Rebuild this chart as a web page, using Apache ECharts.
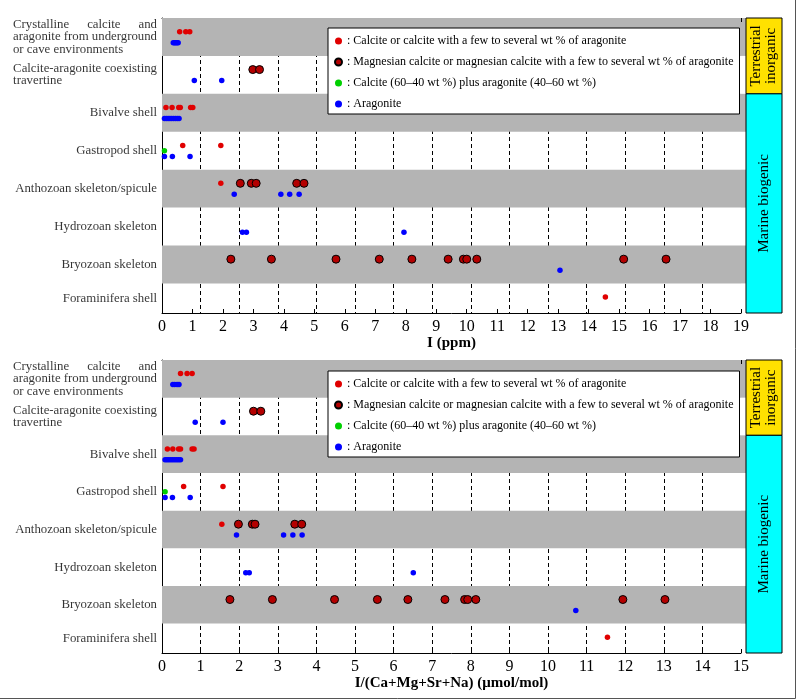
<!DOCTYPE html>
<html><head><meta charset="utf-8">
<script src="https://cdn.jsdelivr.net/npm/echarts@6/dist/echarts.min.js"></script>
<style>html,body{margin:0;padding:0;background:#fff}#c{width:800px;height:699px}</style>
</head><body><div id="c"></div>
<script>
// ---------- data ----------
const categories = ['Crystalline calcite and aragonite from underground or cave environments','Calcite-aragonite coexisting travertine','Bivalve shell','Gastropod shell','Anthozoan skeleton/spicule','Hydrozoan skeleton','Bryozoan skeleton','Foraminifera shell'];
const categoryLabels = [
  '{l|Crystalline}{c|calcite}{r|and}\n{l|aragonite from underground}\n{l|or cave environments}',
  '{l|Calcite-aragonite coexisting}\n{l|travertine}',
  '{l|Bivalve shell}','{l|Gastropod shell}','{l|Anthozoan skeleton/spicule}',
  '{l|Hydrozoan skeleton}','{l|Bryozoan skeleton}','{l|Foraminifera shell}'];
const seriesNames = ['Calcite or calcite with a few to several wt % of aragonite','Magnesian calcite or magnesian calcite with a few to several wt % of aragonite','Calcite (60\u201340 wt %) plus aragonite (40\u201360 wt %)','Aragonite'];
const groupNames = ['Terrestrial\ninorganic','Marine biogenic'];
const xTicksPpm = [0,19];
const xTicksRatio = [0,15];

// [category index, value]
const ppmCalcite = [[0,0.58],[0,0.78],[0,0.91],[2,0.13],[2,0.33],[2,0.55],[2,0.6],[2,0.94],[2,1.01],[3,0.68],[3,1.93],[4,1.93],[7,14.55]];
const ppmMgCalcite = [[1,2.98],[1,3.2],[4,2.57],[4,2.93],[4,3.09],[4,4.42],[4,4.66],[6,2.26],[6,3.59],[6,5.71],[6,7.13],[6,8.2],[6,9.39],[6,9.89],[6,10.0],[6,10.33],[6,15.15],[6,16.54]];
const ppmMixed = [[3,0.08]];
const ppmAragonite = [[0,0.37],[0,0.41],[0,0.45],[0,0.49],[0,0.53],[1,1.06],[1,1.96],[2,0.08],[2,0.14],[2,0.2],[2,0.26],[2,0.32],[2,0.38],[2,0.44],[2,0.5],[2,0.56],[3,0.08],[3,0.34],[3,0.92],[4,2.37],[4,3.9],[4,4.19],[4,4.5],[5,2.64],[5,2.77],[5,7.94],[6,13.06]];

const ratioCalcite = [[0,0.48],[0,0.65],[0,0.78],[2,0.14],[2,0.28],[2,0.43],[2,0.48],[2,0.78],[2,0.83],[3,0.56],[3,1.58],[4,1.55],[7,11.54]];
const ratioMgCalcite = [[1,2.37],[1,2.56],[4,1.98],[4,2.34],[4,2.41],[4,3.44],[4,3.62],[6,1.76],[6,2.86],[6,4.47],[6,5.58],[6,6.37],[6,7.33],[6,7.84],[6,7.92],[6,8.13],[6,11.94],[6,13.03]];
const ratioMixed = [[3,0.08]];
const ratioAragonite = [[0,0.28],[0,0.33],[0,0.39],[0,0.44],[1,0.86],[1,1.58],[2,0.08],[2,0.13],[2,0.18],[2,0.23],[2,0.28],[2,0.33],[2,0.38],[2,0.43],[2,0.48],[3,0.08],[3,0.27],[3,0.73],[4,1.93],[4,3.15],[4,3.39],[4,3.63],[5,2.17],[5,2.26],[5,6.51],[6,10.72]];

// ---------- layout / style ----------
const FONT = '"Liberation Serif", "Times New Roman", serif';
const Y_MAX = 7.78;            // last row is partly cut by the axis
const BAND_ROWS = [0, 2, 4, 6];
const OFFSETS = [-0.14, -0.14, 0, 0.15];
const STYLES = [
  {symbolSize:5.5, itemStyle:{color:'#e00000', opacity:1}},
  {symbolSize:8, itemStyle:{color:'#b40000', borderColor:'#000', borderWidth:1, opacity:1}},
  {symbolSize:5.5, itemStyle:{color:'#00d000', opacity:1}},
  {symbolSize:5.5, itemStyle:{color:'#0000ff', opacity:1}}
];
const panels = [
  {top:18, height:295, ticks:xTicksPpm, name:'I (ppm)', data:[ppmCalcite,ppmMgCalcite,ppmMixed,ppmAragonite], legendTop:28},
  {top:360, height:293, ticks:xTicksRatio, name:'I/(Ca+Mg+Sr+Na) (\u03bcmol/mol)', data:[ratioCalcite,ratioMgCalcite,ratioMixed,ratioAragonite], legendTop:371}
];

const chart = echarts.init(document.getElementById('c'));
const grid = [], xAxis = [], yAxis = [], series = [], legend = [];
const richBase = {fontFamily:FONT, fontSize:12.8, lineHeight:12.5, color:'#000'};

panels.forEach((p, gi) => {
  grid.push({left:162, right:59, top:p.top, height:p.height});
  const base = xAxis.length;
  const xMax = p.ticks[1];
  const dashedStyle = {show:true, showMinLine:false, showMaxLine:false, lineStyle:{color:'#000', type:[4,3], width:1}};
  // main bottom axis
  xAxis.push({type:'value', gridIndex:gi, min:p.ticks[0], max:xMax, interval:1, position:'bottom',
    axisLine:{show:true, onZero:false, lineStyle:{color:'#000', width:1}},
    axisTick:{show:true, inside:true, length:4, lineStyle:{color:'#000'}},
    axisLabel:{show:true, color:'#000', fontFamily:FONT, fontSize:16, margin:6},
    splitLine: gi === 1 ? dashedStyle : {show:false},
    name:p.name, nameLocation:'middle', nameGap:22,
    nameTextStyle:{color:'#000', fontFamily:FONT, fontSize:15, fontWeight:'bold'}});
  // top axis (frame)
  xAxis.push({type:'value', gridIndex:gi, min:p.ticks[0], max:xMax, interval:1, position:'top',
    axisLine:{show:true, onZero:false, lineStyle:{color:'#000', width:1}},
    axisTick:{show:true, inside:true, length:4, lineStyle:{color:'#000'}},
    axisLabel:{show:false}, splitLine:{show:false}});
  if (gi === 0) {
    // dashed reference lines shared with the lower panel's scale
    xAxis.push({type:'value', gridIndex:gi, min:xTicksRatio[0], max:xTicksRatio[1], interval:1, position:'bottom',
      axisLine:{show:false}, axisTick:{show:false}, axisLabel:{show:false}, splitLine:dashedStyle});
  }
  yAxis.push({type:'value', gridIndex:gi, min:0, max:Y_MAX, inverse:true,
    axisLine:{show:true, lineStyle:{color:'#000', width:1}}, axisTick:{show:false},
    axisLabel:{show:false}, splitLine:{show:false}});

  // bands + category labels
  series.push({type:'scatter', xAxisIndex:base, yAxisIndex:gi, z:-2, clip:false, silent:true,
    symbolSize:0,
    data: categories.map((c, i) => ({name:c, value:[0, Math.min(i + 0.5, (i + Y_MAX) / 2)]})),
    label:{show:true, position:'left', distance:5, formatter: q => categoryLabels[q.dataIndex],
      rich:{l:Object.assign({align:'left'}, richBase), c:Object.assign({align:'center'}, richBase), r:Object.assign({align:'right'}, richBase)}},
    markArea:{silent:true, itemStyle:{color:'#b4b4b4'},
      data:BAND_ROWS.map(k => [{yAxis:k},{yAxis:k+1}])}
  });
  p.data.forEach((arr, si) => {
    series.push(Object.assign({type:'scatter', name:seriesNames[si], xAxisIndex:base, yAxisIndex:gi, z:3,
      data: arr.map(([c, v]) => [v, c + 0.5 + OFFSETS[si]])}, STYLES[si]));
  });
  legend.push({orient:'vertical', left:328, top:p.legendTop, data:seriesNames,
    backgroundColor:'#fff', borderColor:'#000', borderWidth:1, borderRadius:0,
    padding:[6,6,3,6], itemGap:7, itemWidth:7, itemHeight:7, selectedMode:false,
    formatter: n => ': ' + n,
    textStyle:{fontFamily:FONT, fontSize:12, color:'#000', lineHeight:14}});
});

chart.setOption({animation:false, backgroundColor:'#fff', grid, xAxis, yAxis, series, legend});

// side boxes, positioned from the axes
const graphic = [];
let xIdx = 0;
panels.forEach((p, gi) => {
  const finder = {xAxisIndex:xIdx, yAxisIndex:gi};
  const xR = chart.convertToPixel(finder, [p.ticks[1], 0])[0];
  const yTop = chart.convertToPixel(finder, [0, 0])[1];
  const ySplit = chart.convertToPixel(finder, [0, 2])[1];
  const yBot = chart.convertToPixel(finder, [0, Y_MAX])[1];
  const bx = xR + 5, bw = 36;
  // grey bands continue up to the side boxes
  BAND_ROWS.forEach(k => {
    const y0 = chart.convertToPixel(finder, [0, k])[1];
    const y1 = chart.convertToPixel(finder, [0, Math.min(k + 1, Y_MAX)])[1];
    graphic.push({type:'rect', z:-3, shape:{x:xR, y:y0, width:5, height:y1 - y0}, style:{fill:'#b4b4b4'}});
  });
  graphic.push({type:'rect', shape:{x:bx, y:yTop, width:bw, height:ySplit - yTop}, style:{fill:'#ffe100', stroke:'#000', lineWidth:1}});
  graphic.push({type:'rect', shape:{x:bx, y:ySplit, width:bw, height:yBot - ySplit}, style:{fill:'#00ffff', stroke:'#000', lineWidth:1}});
  graphic.push({type:'text', x:bx + bw / 2, y:(yTop + ySplit) / 2, rotation:Math.PI / 2,
    style:{text:groupNames[0], align:'center', verticalAlign:'middle', fontFamily:FONT, fontSize:15, lineHeight:15, fill:'#000'}});
  graphic.push({type:'text', x:bx + bw / 2, y:(ySplit + yBot) / 2, rotation:Math.PI / 2,
    style:{text:groupNames[1], align:'center', verticalAlign:'middle', fontFamily:FONT, fontSize:15, fill:'#000'}});
  xIdx += (gi === 0 ? 3 : 2);
});
graphic.push({type:'rect', shape:{x:-1, y:-1, width:796.5, height:699.5}, style:{fill:'none', stroke:'#555', lineWidth:1}});
chart.setOption({graphic});
</script>
</body></html>
